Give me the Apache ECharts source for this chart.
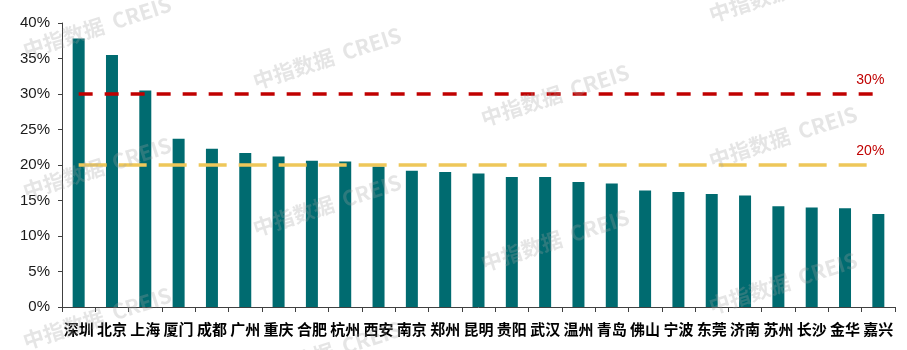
<!DOCTYPE html>
<html>
<head>
<meta charset="utf-8">
<script src="https://cdn.jsdelivr.net/npm/echarts@6/dist/echarts.min.js"></script>
<style>html,body{margin:0;padding:0;background:#fff;}#c{width:907px;height:350px;}</style>
</head>
<body>
<div id="c"></div>
<script>
const categories = ['深圳','北京','上海','厦门','成都','广州','重庆','合肥','杭州','西安','南京','郑州','昆明','贵阳','武汉','温州','青岛','佛山','宁波','东莞','济南','苏州','长沙','金华','嘉兴'];
const values = [37.8,35.5,30.5,23.7,22.3,21.7,21.2,20.6,20.5,19.8,19.2,19.0,18.8,18.3,18.3,17.6,17.4,16.4,16.2,15.9,15.7,14.2,14.0,13.9,13.1];
const refLines = [30, 20];
const refLabels = ['30%', '20%'];
const yTicks = {min: 0, max: 40, interval: 5};
const watermark = '中指数据  CREIS';

const wmPos = [[97,27],[97,168],[97,318],[327,58],[327,205],[327,352],[555,95],[555,240],[783,-9],[783,137],[783,283]];

const chart = echarts.init(document.getElementById('c'), null, {renderer: 'canvas'});
chart.setOption({
  animation: false,
  grid: {left: 62, right: 12, top: 23, bottom: 43},
  xAxis: {
    type: 'category',
    data: categories,
    axisLine: {lineStyle: {color: '#404040', width: 1}},
    axisTick: {show: true, length: 5, lineStyle: {color: '#404040'}},
    axisLabel: {interval: 0, margin: 15, color: '#000', fontSize: 15, fontWeight: 'bold', fontFamily: 'Noto Sans CJK SC'}
  },
  yAxis: {
    type: 'value',
    min: yTicks.min, max: yTicks.max, interval: yTicks.interval,
    axisLine: {show: true, lineStyle: {color: '#404040', width: 1}},
    axisTick: {show: true, length: 4, lineStyle: {color: '#404040'}},
    splitLine: {show: false},
    axisLabel: {formatter: '{value}%', color: '#1a1a1a', fontSize: 15, fontFamily: 'Liberation Sans', margin: 12}
  },
  series: [{
    type: 'bar',
    data: values,
    barWidth: 12,
    itemStyle: {color: '#006B70'},
    markLine: {
      symbol: 'none',
      silent: true,
      data: [
        [{coord: [categories[0], refLines[0]], lineStyle: {color: '#C00000', width: 3.5, type: [14, 12]},
          label: {show: true, position: 'insideEndTop', formatter: refLabels[0], color: '#C00000', fontSize: 14, fontFamily: 'Liberation Sans', distance: [-6, 7]}},
         {coord: [categories[categories.length-1], refLines[0]]}],
        [{coord: [categories[0], refLines[1]], lineStyle: {color: '#EEC75A', width: 3.5, type: [28, 12]},
          label: {show: true, position: 'insideEndTop', formatter: refLabels[1], color: '#C00000', fontSize: 14, fontFamily: 'Liberation Sans', distance: [-6, 7]}},
         {coord: [categories[categories.length-1], refLines[1]]}]
      ]
    }
  }],
  graphic: wmPos.map(p => ({
    type: 'text',
    x: p[0], y: p[1],
    rotation: 18 * Math.PI / 180,
    z: 100,
    silent: true,
    style: {text: watermark, fill: 'rgba(160,160,160,0.28)', font: 'bold 21px "Noto Sans CJK SC"', align: 'center', verticalAlign: 'middle'}
  }))
});
</script>
</body>
</html>
